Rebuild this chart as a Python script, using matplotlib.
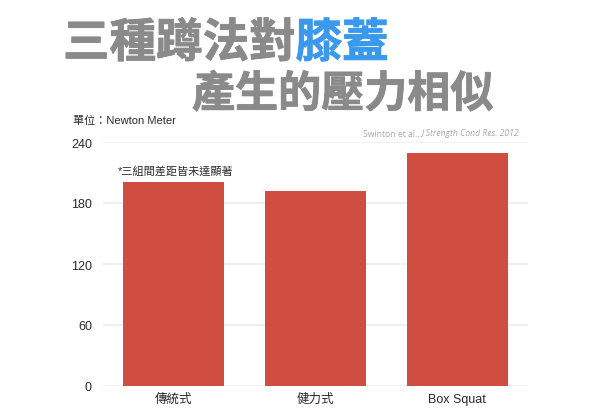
import matplotlib
matplotlib.use('Agg')
import matplotlib.pyplot as plt
import matplotlib.patheffects as pe

plt.rcParams['font.family'] = ['Liberation Sans', 'Noto Sans CJK TC', 'DejaVu Sans']

categories = ['傳統式', '健力式', 'Box Squat']
knee_force = [201, 192, 229.5]
y_ticks = [0, 60, 120, 180, 240]

title_gray = '三種蹲法對'
title_blue = '膝蓋'
title_line2 = '產生的壓力相似'
unit_label = '單位：Newton Meter'
note_label = '*三組間差距皆未達顯著'
source_plain = 'Swinton et al., '
source_italic = 'J Strength Cond Res. 2012'

W, H = 600, 414
fig = plt.figure(figsize=(W / 100, H / 100), dpi=100)
ax = fig.add_axes([103 / W, (H - 387) / H, 425 / W, 244 / H])

bar_color = '#cf4e41'
x = range(len(categories))
ax.bar(x, knee_force, width=0.714, color=bar_color, zorder=2)
ax.set_xlim(-0.5, 2.5)
ax.set_ylim(0, 240)
ax.set_yticks(y_ticks)
ax.set_xticks(list(x))
ax.set_xticklabels(categories)
ax.tick_params(axis='both', length=0, labelsize=9, colors='#2a2a2a')
ax.tick_params(axis='y', pad=8)
ax.tick_params(axis='x', pad=5)
ax.yaxis.grid(True, color='#ededed', linewidth=1.2, zorder=0)
ax.set_axisbelow(True)
for s in ax.spines.values():
    s.set_visible(False)

# small labels
fig.text(73 / W, 1 - 121 / H, unit_label, fontsize=8, color='#2a2a2a', va='center', ha='left')
fig.text(118 / W, 1 - 171 / H, note_label, fontsize=8, color='#2a2a2a', va='center', ha='left')

# title, two colours on line one (thin stroke to make it a bit heavier)
gray, blue = '#8a8a8a', '#3a99ec'
title_font = dict(family=['Noto Sans CJK TC', 'DejaVu Sans'], fontweight='heavy', va='center', ha='left')
fig.canvas.draw()
r = fig.canvas.get_renderer()
t1 = fig.text(63 / W, 1 - 44 / H, title_gray, fontsize=33.5, color=gray,
              path_effects=[pe.withStroke(linewidth=0.6, foreground=gray)], **title_font)
bb = t1.get_window_extent(renderer=r)
fig.text(bb.x1 / W, 1 - 44 / H, title_blue, fontsize=33.5, color=blue,
         path_effects=[pe.withStroke(linewidth=0.6, foreground=blue)], **title_font)
fig.text(192 / W, 1 - 95 / H, title_line2, fontsize=31, color=gray,
         path_effects=[pe.withStroke(linewidth=0.6, foreground=gray)], **title_font)

# source
src_font = dict(family=['Open Sans', 'DejaVu Sans'], fontsize=6.2, color='#a8a8a8', va='center', ha='left')
s1 = fig.text(363 / W, 1 - 134 / H, source_plain, **src_font)
bb = s1.get_window_extent(renderer=r)
fig.text(bb.x1 / W, 1 - 134 / H, source_italic, style='italic', **src_font)

plt.savefig('out.png', dpi=100)
